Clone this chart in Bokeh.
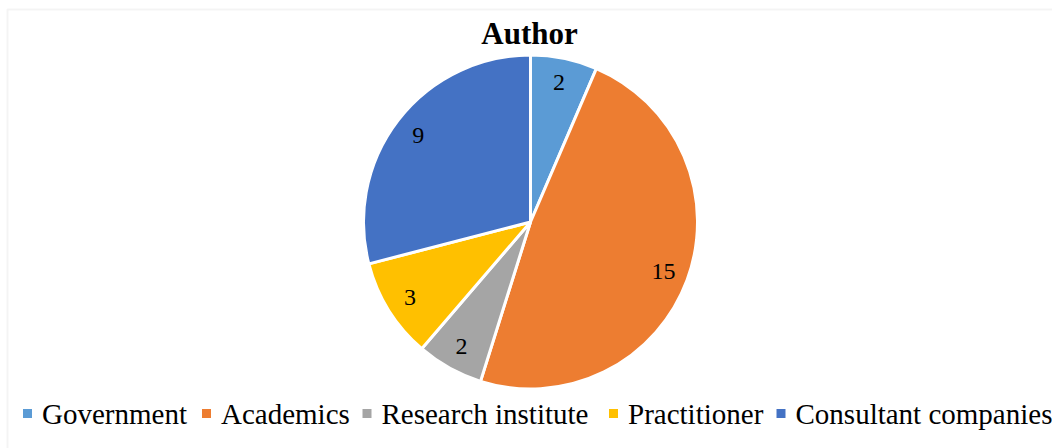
import math
from bokeh.plotting import figure
from bokeh.models import ColumnDataSource, Range1d, BoxAnnotation
from bokeh.core.properties import value
from bokeh.embed import file_html
from bokeh.resources import INLINE

# ---- data ----
categories = ["Government", "Academics", "Research institute", "Practitioner", "Consultant companies"]
counts = [2, 15, 2, 3, 9]
colors = ["#5B9BD5", "#ED7D31", "#A5A5A5", "#FFC000", "#4472C4"]
title_text = "Author"

W, H = 1052, 448
CX, CY, R = 530.0, H - 221.5, 167.0
LABEL_FRAC = 0.85

total = float(sum(counts))
starts, ends, lx, ly = [], [], [], []
cum = 0.0
for c in counts:
    a0 = math.pi / 2 - 2 * math.pi * cum / total
    cum += c
    a1 = math.pi / 2 - 2 * math.pi * cum / total
    starts.append(a0)
    ends.append(a1)
    mid = (a0 + a1) / 2
    lx.append(CX + LABEL_FRAC * R * math.cos(mid))
    ly.append(CY + LABEL_FRAC * R * math.sin(mid))

src = ColumnDataSource(dict(cat=categories, val=counts, color=colors,
                            start=starts, end=ends, lx=lx, ly=ly,
                            txt=[str(v) for v in counts]))

p = figure(width=W, height=H, output_backend="svg", toolbar_location=None,
           x_range=Range1d(0, W), y_range=Range1d(0, H), min_border=0,
           background_fill_color="white", border_fill_color="white")
p.axis.visible = False
p.grid.visible = False
p.outline_line_color = None

# chart border (extends past right and bottom edge as in reference)
p.add_layout(BoxAnnotation(left=7, right=W + 50, top=H - 9, bottom=-50,
                           fill_alpha=0, line_color="#D9D9D9", line_width=2))

p.wedge(x=CX, y=CY, radius=R, start_angle="start", end_angle="end",
        direction="clock", fill_color="color", line_color="white",
        line_width=3, source=src)

p.text(x="lx", y="ly", text="txt", source=src, text_font=value("Liberation Serif"),
       text_font_size="24px", text_align="center", text_baseline="middle",
       text_color="black")

# title
p.text(x=[CX - 1], y=[H - 33], text=[title_text], text_font=value("Liberation Serif"),
       text_font_size="31px", text_font_style="bold", text_align="center",
       text_baseline="middle", text_color="black")

# legend (manual)
leg_mx = [27, 206, 366.5, 613, 780.5]
leg_y = H - 413
lsrc = ColumnDataSource(dict(x=leg_mx, tx=[m + 14.5 for m in leg_mx],
                             y=[leg_y] * 5, color=colors, cat=categories))
p.rect(x="x", y="y", width=9, height=9, width_units="screen", height_units="screen",
       fill_color="color", line_color=None, source=lsrc)
p.text(x="tx", y="y", text="cat", source=lsrc, text_font=value("Liberation Serif"),
       text_font_size="29px", text_align="left", text_baseline="middle",
       text_color="black")

open("out.html", "w").write(file_html(p, INLINE))
